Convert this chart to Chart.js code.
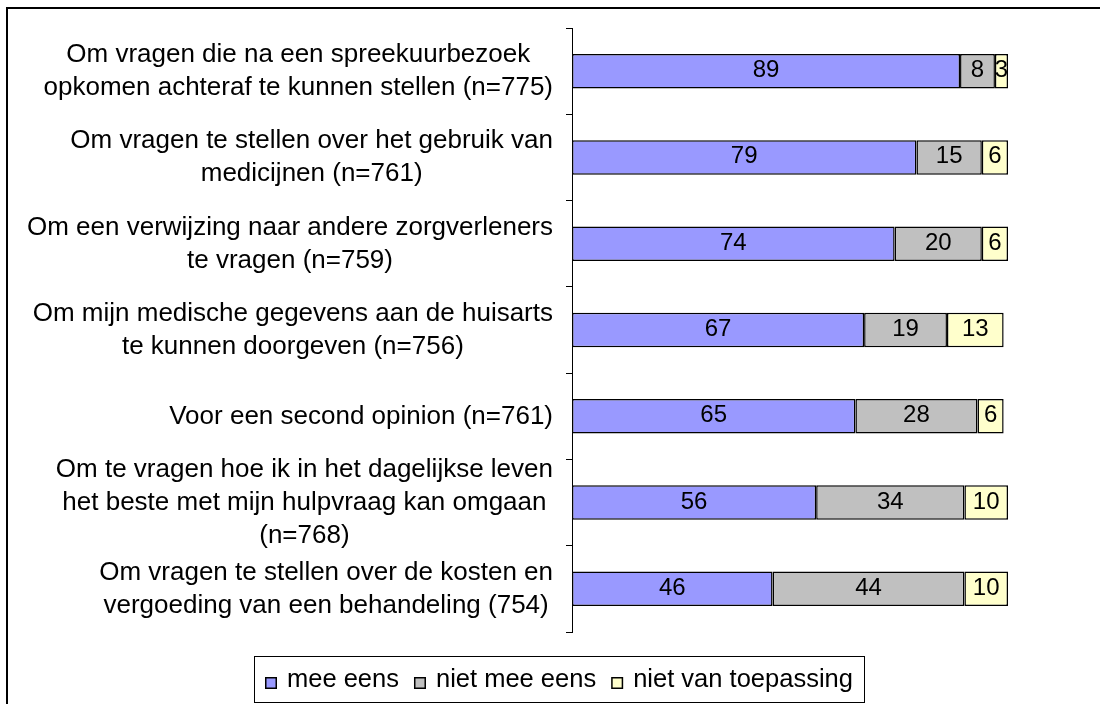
<!DOCTYPE html>
<html>
<head>
<meta charset="utf-8">
<script src="https://cdn.jsdelivr.net/npm/chart.js@4.4.1/dist/chart.umd.min.js"></script>
<style>
  html, body { margin: 0; padding: 0; background: #fff; }
  #wrap { position: relative; width: 1100px; height: 704px; overflow: hidden; }
  #frame { position: absolute; left: 6px; top: 7px; width: 1103px; height: 800px; border: 2px solid #000; }
  #chart { position: absolute; left: 0; top: 0; }
</style>
</head>
<body>
<div id="wrap">
  <div id="frame"></div>
  <canvas id="chart" width="1100" height="704"></canvas>
</div>
<script>
// Categories (already wrapped as in the original)
const categories = [
  ['Om vragen die na een spreekuurbezoek', 'opkomen achteraf te kunnen stellen (n=775)'],
  ['Om vragen te stellen over het gebruik van', 'medicijnen (n=761)'],
  ['Om een verwijzing naar andere zorgverleners', 'te vragen (n=759)'],
  ['Om mijn medische gegevens aan de huisarts', 'te kunnen doorgeven (n=756)'],
  ['Voor een second opinion (n=761)'],
  ['Om te vragen hoe ik in het dagelijkse leven', 'het beste met mijn hulpvraag kan omgaan', '(n=768)'],
  ['Om vragen te stellen over de kosten en', 'vergoeding van een behandeling (754)'],
];

// Percentages per series
const meeEens = [89, 79, 74, 67, 65, 56, 46];
const nietMeeEens = [8, 15, 20, 19, 28, 34, 44];
const nietVanToepassing = [3, 6, 6, 13, 6, 10, 10];

const seriesNames = ['mee eens', 'niet mee eens', 'niet van toepassing'];
const seriesColors = ['#9999FF', '#C0C0C0', '#FFFFCC'];

const FONT = "'Liberation Sans', Arial, sans-serif";

// Excel-style category labels: lines centered inside a right-aligned block
const categoryLabels = {
  id: 'categoryLabels',
  afterDraw(chart) {
    const { ctx } = chart;
    const yScale = chart.scales.y;
    const axisX = chart.chartArea.left;
    ctx.save();
    ctx.font = `26px ${FONT}`;
    ctx.fillStyle = '#000';
    ctx.textAlign = 'center';
    ctx.textBaseline = 'alphabetic';
    chart.data.labels.forEach((lines, i) => {
      const widest = Math.max(...lines.map((l) => ctx.measureText(l).width));
      const cx = axisX - 19 - widest / 2;
      const cy = yScale.getPixelForValue(i);
      lines.forEach((line, j) => {
        ctx.fillText(line, cx, cy + (j - (lines.length - 1) / 2) * 33 + 7.5);
      });
    });
    ctx.restore();
  },
};

// value in the middle of every segment
const barValues = {
  id: 'barValues',
  afterDatasetsDraw(chart) {
    const { ctx } = chart;
    ctx.save();
    ctx.font = `24px ${FONT}`;
    ctx.fillStyle = '#000';
    ctx.textAlign = 'center';
    ctx.textBaseline = 'alphabetic';
    chart.data.datasets.forEach((ds, di) => {
      chart.getDatasetMeta(di).data.forEach((bar, i) => {
        const { x, base, y } = bar.getProps(['x', 'base', 'y'], true);
        ctx.fillText(String(ds.data[i]), (x + base) / 2, y + 6);
      });
    });
    ctx.restore();
  },
};

// boxed legend under the plot
const boxLegend = {
  id: 'boxLegend',
  afterDraw(chart) {
    const { ctx } = chart;
    ctx.save();
    ctx.font = `25.5px ${FONT}`;
    const items = chart.data.datasets.map((ds) => ({
      text: ds.label,
      color: ds.backgroundColor,
      w: ctx.measureText(ds.label).width,
    }));
    const pad = 11;
    const marker = 12;
    const gap = 10;
    const spacing = 15;
    const inner = items.reduce((s, it) => s + marker + gap + it.w, 0) + spacing * (items.length - 1);
    const width = Math.round(inner + pad * 2);
    const left = Math.round(558.5 - width / 2);
    const top = 656;
    const height = 46;
    ctx.fillStyle = '#fff';
    ctx.fillRect(left, top, width, height);
    ctx.strokeStyle = '#000';
    ctx.lineWidth = 1;
    ctx.strokeRect(left + 0.5, top + 0.5, width, height);
    let x = left + pad;
    items.forEach((it) => {
      ctx.fillStyle = it.color;
      ctx.fillRect(x, 677, marker, marker);
      ctx.strokeStyle = '#000';
      ctx.lineWidth = 1.5;
      ctx.strokeRect(x + 0.75, 677.75, marker - 1.5, marker - 1.5);
      ctx.fillStyle = '#000';
      ctx.textAlign = 'left';
      ctx.textBaseline = 'alphabetic';
      ctx.fillText(it.text, x + marker + gap, 687);
      x += marker + gap + it.w + spacing;
    });
    ctx.restore();
  },
};

const seriesData = [meeEens, nietMeeEens, nietVanToepassing];

// eslint-disable-next-line no-undef
new Chart(document.getElementById('chart'), {
  type: 'bar',
  data: {
    labels: categories,
    datasets: seriesData.map((values, k) => ({
      label: seriesNames[k],
      data: values,
      backgroundColor: seriesColors[k],
      borderColor: '#000',
      borderWidth: 1.5,
      borderSkipped: false,
      barPercentage: 0.4,
      categoryPercentage: 1,
    })),
  },
  options: {
    indexAxis: 'y',
    responsive: false,
    animation: false,
    layout: { padding: { top: 28, bottom: 72, left: 0, right: 92 } },
    plugins: {
      legend: { display: false },
      tooltip: { enabled: false },
    },
    scales: {
      x: { stacked: true, min: 0, max: 100, display: false },
      y: {
        stacked: true,
        grid: {
          display: true,
          drawOnChartArea: false,
          drawTicks: true,
          tickLength: 6,
          color: '#000',
          offset: true,
        },
        border: { display: true, color: '#000', width: 1 },
        ticks: { display: false },
        afterFit(scale) {
          // eslint-disable-next-line no-param-reassign
          scale.width = 572;
        },
      },
    },
  },
  plugins: [categoryLabels, barValues, boxLegend],
});
</script>
</body>
</html>
